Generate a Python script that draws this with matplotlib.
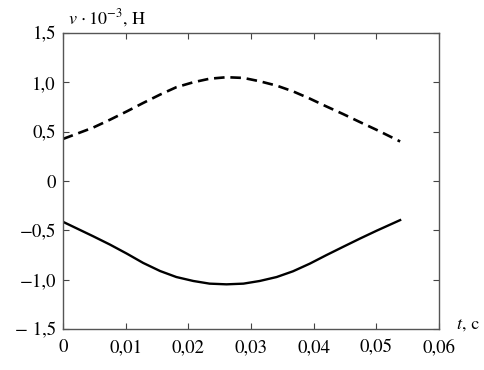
import matplotlib
matplotlib.use("Agg")
import matplotlib.pyplot as plt

plt.rcParams['font.family'] = ['STIXGeneral', 'DejaVu Serif']
plt.rcParams['mathtext.fontset'] = 'stix'

# time (s) and values (x10^-3 N)
t_upper = [0.0, 0.0048, 0.0075, 0.0102, 0.0128, 0.0155, 0.0181, 0.0208, 0.0234,
           0.0261, 0.0288, 0.0314, 0.0341, 0.0367, 0.0394, 0.0420, 0.0447, 0.0474,
           0.0500, 0.0538]
v_upper = [0.425, 0.54, 0.62, 0.705, 0.79, 0.875, 0.950, 1.0, 1.036,
           1.051, 1.044, 1.01, 0.966, 0.908, 0.834, 0.756, 0.678, 0.596,
           0.519, 0.40]

t_lower = [0.0, 0.0048, 0.0075, 0.0102, 0.0128, 0.0155, 0.0181, 0.0208, 0.0234,
           0.0261, 0.0288, 0.0314, 0.0341, 0.0367, 0.0394, 0.0420, 0.0447, 0.0474,
           0.0500, 0.0538]
v_lower = [-0.414, -0.56, -0.645, -0.737, -0.831, -0.913, -0.974, -1.014, -1.041,
           -1.048, -1.041, -1.014, -0.974, -0.916, -0.838, -0.753, -0.668, -0.584,
           -0.506, -0.397]

xticks = [0, 0.01, 0.02, 0.03, 0.04, 0.05, 0.06]
xticklabels = ['0', '0,01', '0,02', '0,03', '0,04', '0,05', '0,06']
yticks = [-1.5, -1.0, -0.5, 0, 0.5, 1.0, 1.5]
yticklabels = ['\u2212 1,5', '\u22121,0', '\u22120,5', '0', '0,5', '1,0', '1,5']

fig = plt.figure(figsize=(4.84, 3.70), dpi=100)
ax = fig.add_axes([0.130, 0.111, 0.777, 0.800])

ax.plot(t_upper, v_upper, color='black', lw=1.9, linestyle=(0, (4.0, 2.2)),
        solid_joinstyle='round')
ax.plot(t_lower, v_lower, color='black', lw=1.7, solid_joinstyle='round')

ax.set_xlim(0, 0.06)
ax.set_ylim(-1.5, 1.5)
ax.set_xticks(xticks)
ax.set_xticklabels(xticklabels)
ax.set_yticks(yticks)
ax.set_yticklabels(yticklabels)
ax.tick_params(direction='in', length=4, width=0.8, top=True, right=True,
               labelsize=13.5, colors='#444444', labelcolor='black')
ax.tick_params(axis='x', pad=7)
ax.tick_params(axis='y', pad=5)
for s in ax.spines.values():
    s.set_color('#555555')
    s.set_linewidth(1.0)

fig.text(0.140, 0.950, r'$v\,\cdot 10^{-3}$, Н', fontsize=13, ha='left', va='center')
fig.text(0.942, 0.122, r'$t$, с', fontsize=13, ha='left', va='center')

fig.savefig('out.png', dpi=100)
